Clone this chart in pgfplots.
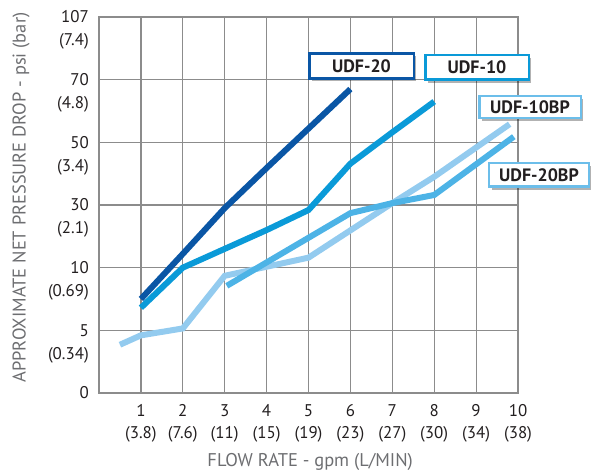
\documentclass[border=0pt]{standalone}
\usepackage{pgfplots}
\pgfplotsset{compat=1.18}
\usepackage{fontspec}
\setmainfont{PT Sans}
\usetikzlibrary{shadows}
\definecolor{cTwenty}{HTML}{0A56A5}
\definecolor{cTen}{HTML}{0A9AD8}
\definecolor{cTwentyBP}{HTML}{4DB3E6}
\definecolor{cTenBP}{HTML}{93CBEF}
\definecolor{gridgray}{HTML}{8C8C8C}
\definecolor{titlegray}{HTML}{6D6E71}
\definecolor{ticktext}{HTML}{231F20}
\newcommand{\sub}[1]{\makebox[0pt][r]{\raisebox{-23bp}[0pt][0pt]{#1}}}
\begin{document}
\begin{tikzpicture}
\useasboundingbox (0,0) rectangle (591bp,473bp);
\begin{axis}[
  at={(99bp,80bp)}, anchor=south west,
  scale only axis, width=419bp, height=376bp,
  xmin=0, xmax=10, ymin=0, ymax=6,
  xtick={1,2,3,4,5,6,7,8,9,10},
  ytick={0,1,2,3,4,5,6},
  xticklabels={{1\\(3.8)},{2\\(7.6)},{3\\(11)},{4\\(15)},{5\\(19)},{6\\(23)},{7\\(27)},{8\\(30)},{9\\(34)},{10\\(38)}},
  yticklabels={0,5\sub{(0.34)},10\sub{(0.69)},30\sub{(2.1)},50\sub{(3.4)},70\sub{(4.8)},107\sub{(7.4)}},
  xticklabel style={align=center, font=\fontsize{17}{22.5}\selectfont, text=ticktext, inner sep=0pt, anchor=north, yshift=-11bp},
  yticklabel style={anchor=east, font=\fontsize{17}{22.5}\selectfont, text=ticktext, inner sep=0pt, xshift=-10bp},
  /pgf/number format/assume math mode=true,
  grid=major,
  major grid style={draw=gridgray, line width=1.2bp},
  axis line style={draw=gridgray, line width=1.2bp},
  major tick length=0pt,
  xlabel={FLOW RATE - gpm (L/MIN)},
  ylabel={APPROXIMATE NET PRESSURE DROP - psi (bar)},
  xlabel style={at={(axis description cs:0.504,-0.1835)}, anchor=center, font=\fontsize{18.5}{18.5}\selectfont, text=titlegray},
  ylabel style={at={(axis description cs:-0.186,0.52)}, anchor=center, font=\fontsize{18.5}{18.5}\selectfont, text=titlegray},
  clip=false,
]
\addplot[no marks, line width=6bp, color=cTenBP] coordinates {(0.5,0.77) (1,0.92) (2,1.03) (3,1.87) (5,2.16) (7,3.03) (8,3.45) (9.8,4.29)};
\addplot[no marks, line width=6bp, color=cTwentyBP] coordinates {(3.05,1.71) (6,2.87) (7,3.03) (8,3.16) (9.9,4.09)};
\addplot[no marks, line width=6bp, color=cTen] coordinates {(1,1.36) (2,2.0) (3,2.3) (4,2.6) (5,2.92) (6,3.66) (7,4.16) (8,4.65)};
\addplot[no marks, line width=6bp, color=cTwenty] coordinates {(1,1.5) (2,2.22) (3,2.95) (4,3.59) (5,4.22) (6,4.85)};
\end{axis}
\tikzset{lbl/.style={fill=white, line width=2.5bp, inner sep=0pt, font=\bfseries\fontsize{18}{18}\selectfont, text=ticktext, drop shadow={shadow xshift=2.5bp, shadow yshift=-3bp, fill=black, opacity=0.3}}}
\node[lbl, draw=cTwenty, minimum width=104.5bp, minimum height=25bp] at (361.5bp,407bp) {UDF-20};
\node[lbl, draw=cTen, minimum width=103.5bp, minimum height=24.5bp] at (477bp,405.5bp) {UDF-10};
\node[lbl, draw=cTwentyBP!55!cTenBP, minimum width=101.5bp, minimum height=22bp] at (530bp,366bp) {UDF-10BP};
\node[lbl, draw=cTwentyBP!55!cTenBP, minimum width=100bp, minimum height=23.5bp] at (539bp,298bp) {UDF-20BP};
\end{tikzpicture}
\end{document}
